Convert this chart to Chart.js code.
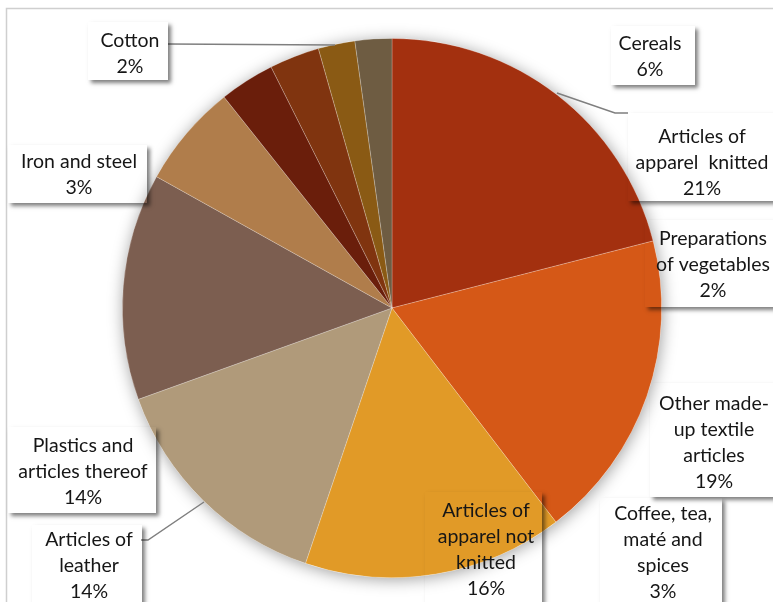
<!DOCTYPE html>
<html>
<head>
<meta charset="utf-8">
<script src="https://cdn.jsdelivr.net/npm/chart.js@4/dist/chart.umd.min.js"></script>
<style>
  html, body { margin: 0; padding: 0; background: #fff; }
  #wrap { width: 773px; height: 602px; position: relative; }
</style>
</head>
<body>
<div id="wrap"><canvas id="myChart" width="773" height="602"></canvas></div>
<script>
// export shares by product group (%), clockwise from 12 o'clock
const categories = [
  ['Articles of', 'apparel  knitted'],
  ['Other made-', 'up textile', 'articles'],
  ['Articles of', 'apparel not', 'knitted'],
  ['Articles of', 'leather'],
  ['Plastics and', 'articles thereof'],
  ['Cereals'],
  ['Iron and steel'],
  ['Coffee, tea,', 'maté and', 'spices'],
  ['Preparations', 'of vegetables'],
  ['Cotton']
];
const shares = [21.0, 18.6, 15.6, 14.3, 13.6, 6.2, 3.3, 3.0, 2.2, 2.2];
const sliceColors = ['#A3300F', '#D55817', '#E19A27', '#B09A7A', '#7C5E50',
                     '#B07D4B', '#6A1E0B', '#80340F', '#8A5A14', '#6E5C42'];

// where the (hand placed) callouts sit
const callouts = [
  { box: [628, 113, 160, 88],  cx: 702, base: 143 },
  { box: [650, 383, 140, 114], cx: 714, base: 410 },
  { box: [425, 492, 117, 130], cx: 486, base: 517 },
  { box: [32, 525, 110, 100],  cx: 89,  base: 546, leader: [[141, 540], [148, 540], [204, 502]] },
  { box: [8, 427, 148, 86],    cx: 83,  base: 452 },
  { box: [611, 26, 84, 59],    cx: 650, base: 50,  leader: [[557, 93], [615, 113], [628, 113]] },
  { box: [8, 145, 139, 58],    cx: 79,  base: 168 },
  { box: [600, 498, 122, 130], cx: 663, base: 520 },
  { box: [645, 220, 140, 87],  cx: 713, base: 245 },
  { box: [88, 22, 80, 58],     cx: 130, base: 47,  leader: [[168, 44], [335, 45]] }
];
const lineH = 26;

const total = shares.reduce((a, b) => a + b, 0);

const decor = {
  id: 'decor',
  beforeDatasetsDraw(chart) {
    const ctx = chart.ctx;
    const dpr = chart.currentDevicePixelRatio || 1;
    // outer frame
    ctx.save();
    ctx.strokeStyle = '#CFCFCF';
    ctx.lineWidth = 1.5;
    ctx.strokeRect(6.5, 8.5, 900, 800);
    ctx.restore();
    // soft glow round the pie
    const arc = chart.getDatasetMeta(0).data[0];
    ctx.save();
    ctx.shadowColor = 'rgba(0,0,0,0.38)';
    ctx.shadowBlur = 16 * dpr;
    ctx.shadowOffsetX = 1 * dpr;
    ctx.shadowOffsetY = 2 * dpr;
    ctx.fillStyle = '#ffffff';
    ctx.beginPath();
    ctx.arc(arc.x, arc.y, arc.outerRadius, 0, Math.PI * 2);
    ctx.fill();
    ctx.restore();
  },
  afterDatasetsDraw(chart) {
    const ctx = chart.ctx;
    const dpr = chart.currentDevicePixelRatio || 1;
    const W = chart.width, H = chart.height;

    // leader lines
    ctx.save();
    ctx.strokeStyle = '#7F7F7F';
    ctx.lineWidth = 1.5;
    callouts.forEach(c => {
      if (!c.leader) return;
      ctx.beginPath();
      c.leader.forEach((p, i) => i ? ctx.lineTo(p[0], p[1]) : ctx.moveTo(p[0], p[1]));
      ctx.stroke();
    });
    ctx.restore();

    // callout boxes: no fill, only the drop shadow outside
    callouts.forEach(c => {
      const [x, y, w, h] = c.box;
      ctx.save();
      ctx.beginPath();
      ctx.rect(0, 0, W, H);
      ctx.rect(x, y, w, h);
      ctx.clip('evenodd');
      ctx.shadowColor = 'rgba(0,0,0,0.5)';
      ctx.shadowBlur = 4 * dpr;
      ctx.shadowOffsetX = 2.5 * dpr;
      ctx.shadowOffsetY = 2.5 * dpr;
      ctx.fillStyle = '#ffffff';
      ctx.fillRect(x, y, w, h);
      ctx.restore();
    });

    // label text
    ctx.save();
    ctx.fillStyle = '#161616';
    ctx.font = '19.5px Lato, "Open Sans", sans-serif';
    ctx.textAlign = 'center';
    ctx.textBaseline = 'alphabetic';
    categories.forEach((lines, i) => {
      const c = callouts[i];
      const pct = Math.round(shares[i] / total * 100) + '%';
      lines.concat([pct]).forEach((t, k) => ctx.fillText(t, c.cx, c.base + k * lineH));
    });
    ctx.restore();
  }
};

const ctx = document.getElementById('myChart');
new Chart(ctx, {
  type: 'pie',
  data: {
    labels: categories,
    datasets: [{
      data: shares,
      backgroundColor: sliceColors,
      borderColor: 'rgba(255,255,255,0.3)',
      borderWidth: 0.75
    }]
  },
  options: {
    responsive: false,
    animation: false,
    layout: { padding: { top: 38, bottom: 24, left: 122, right: 111 } },
    plugins: {
      legend: { display: false },
      tooltip: { enabled: false }
    }
  },
  plugins: [decor]
});
</script>
</body>
</html>
